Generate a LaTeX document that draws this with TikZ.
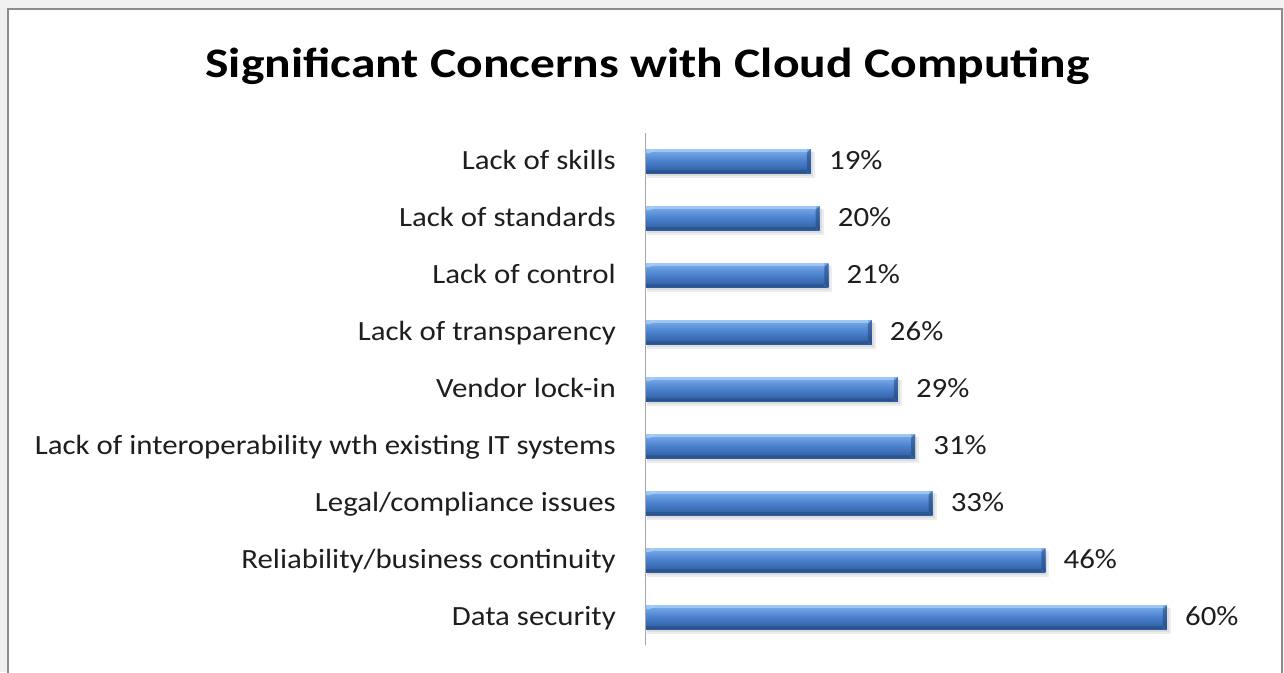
\documentclass[tikz,border=0pt]{standalone}
\usepackage{fontspec}
\usepackage{graphicx}
\setmainfont{Carlito}
\usetikzlibrary{calc}
\definecolor{framegray}{HTML}{8C8C8C}
\definecolor{outergray}{HTML}{F0F0F0}
\definecolor{bartop}{HTML}{7DB0EE}
\definecolor{barmid}{HTML}{4A80CC}
\definecolor{barbot}{HTML}{2E5C9E}
\definecolor{barhi}{HTML}{A8CDF6}
\definecolor{txt}{HTML}{1E1E1E}
\newcommand{\wide}[1]{\scalebox{1.11}[1]{#1}}
\newcommand{\widetitle}[1]{\scalebox{1.18}[1]{#1}}
\tikzset{
  cat/.style={anchor=base east, font=\fontsize{27.8}{30}\selectfont, text=txt, inner sep=0pt},
  val/.style={anchor=base west, font=\fontsize{27.8}{30}\selectfont, text=txt, inner sep=0pt},
  bar/.style={top color=bartop, bottom color=barbot, middle color=barmid, draw=none},
  titlestyle/.style={anchor=base, font=\bfseries\fontsize{42}{46}\selectfont, text=black, inner sep=0pt},
}
\begin{document}
\begin{tikzpicture}[x=1pt,y=-1pt]
\useasboundingbox (0,0) rectangle (1284,672);
\fill[outergray] (0,0) rectangle (1284,672);
\fill[white] (8,9) rectangle (1282,672);
\draw[framegray, line width=2.2pt] (8,680) -- (8,9) -- (1282,9) -- (1282,680);
\node[titlestyle] (title) at (647.5,77) {\widetitle{Significant Concerns with Cloud Computing}};
\coordinate (axtop) at (645,133);
\coordinate (axbot) at (645,645);
\draw[gray!70, line width=1pt] (axtop) -- (axbot);
\foreach \v/\lab [count=\i] in {19/{Lack of skills}, 20/{Lack of standards}, 21/{Lack of control}, 26/{Lack of transparency}, 29/{Vendor lock-in}, 31/{Lack of interoperability wth existing IT systems}, 33/{Legal{/}compliance issues}, 46/{Reliability{/}business continuity}, 60/{Data security}} {
  \pgfmathsetmacro{\yc}{161+57*(\i-1)}
  \pgfmathsetmacro{\xe}{646+\v*8.683}
  % shadow
  \fill[black, opacity=0.07] (647,\yc-9) rectangle (\xe+4,\yc+17);
  \fill[black, opacity=0.07] (647,\yc-10) rectangle (\xe+2,\yc+15);
  \shade[bar] (646,\yc-12) rectangle (\xe,\yc+12);
  % top highlight
  \fill[barhi, opacity=0.8] (650,\yc-12) rectangle (\xe-4,\yc-9.5);
  % bevel on ends
  \fill[barbot!80!black, opacity=0.6] (\xe-4,\yc-8) -- (\xe,\yc-12) -- (\xe,\yc+12) -- (\xe-4,\yc+9) -- cycle;
  \fill[barhi, opacity=0.8] (646,\yc-12) -- (658,\yc-12) -- (650,\yc-8) -- (646,\yc-8) -- cycle;
  \fill[barbot!70!black, opacity=0.35] (646,\yc+9) rectangle (\xe-4,\yc+12);
  \node[cat] (c\i) at (616,\yc+8.5) {\wide{\lab}};
  \node[val] (v\i) at (\xe+18,\yc+8.5) {\wide{\v\%}};
}
\end{tikzpicture}
\end{document}
